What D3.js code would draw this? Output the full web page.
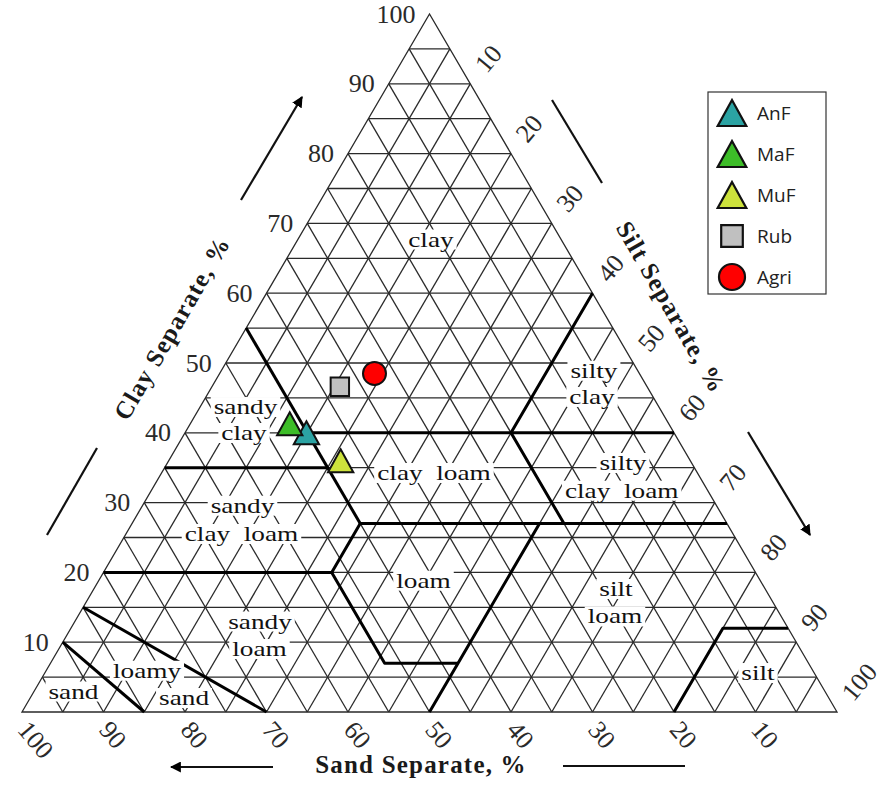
<!DOCTYPE html>
<html>
<head>
<meta charset="utf-8">
<script src="https://cdn.jsdelivr.net/npm/d3@7/dist/d3.min.js"></script>
<style>
  body { margin: 0; background: #fff; }
  svg { display: block; }
</style>
</head>
<body>
<div id="chart"></div>
<script>
// soil samples, % of each separate
var sites = ["AnF", "MaF", "MuF", "Rub", "Agri"];
var siteSand = [45.1, 46.5, 42.9, 37.7, 32.5];
var siteSilt = [14.9, 12.2, 21.1, 15.7, 19.0];
var siteClay = [40.0, 41.3, 36.0, 46.6, 48.5];
var siteShape = ["triangle", "triangle", "triangle", "square", "circle"];
var siteColor = ["#2ba3a3", "#3dbd28", "#cde23c", "#c0c0c0", "#ff0000"];

var ticks = [10, 20, 30, 40, 50, 60, 70, 80, 90, 100];
var gridSteps = d3.range(5, 100, 5);

// texture class boundaries as [sand, silt, clay]
var boundaries = [
    [[90, 0, 10], [85, 15, 0]],
    [[85, 0, 15], [70, 30, 0]],
    [[80, 0, 20], [52, 28, 20], [52, 41, 7], [43, 50, 7]],
    [[65, 0, 35], [45, 20, 35]],
    [[45, 0, 55], [45, 28, 27]],
    [[52, 28, 20], [45, 28, 27], [0, 73, 27]],
    [[45, 15, 40], [0, 60, 40]],
    [[0, 40, 60], [20, 40, 40], [20, 53, 27]],
    [[23, 50, 27], [43, 50, 7], [50, 50, 0]],
    [[20, 80, 0], [8, 80, 12], [0, 88, 12]]
];

// class name lines, centred at [clay, silt]
var labelText = ["clay", "silty", "clay", "sandy", "clay", "clay  loam", "silty", "clay  loam",
    "sandy", "clay  loam", "loam", "silt", "loam", "sandy", "loam", "loamy", "sand", "sand", "silt"];
var labelClay = [67.55, 48.75, 44.99, 43.55, 39.83, 34.1, 35.53, 31.56,
    29.41, 25.36, 18.67, 17.48, 13.54, 12.82, 8.88, 5.77, 1.86, 2.79, 5.44];
var labelSilt = [16.4, 45.8, 47.45, 5.65, 7.33, 33.5, 55.97, 57.8,
    12.35, 14.25, 39.93, 64.14, 65.99, 22.79, 24.7, 12.45, 18.95, 4.92, 87.59];

var width = 883, height = 792;

var svg = d3.select("#chart").append("svg")
    .attr("width", width)
    .attr("height", height);

var xScale = d3.scaleLinear().domain([0, 100]).range([22, 837]);
var yScale = d3.scaleLinear().domain([0, 100]).range([712, 14]);

function project(sand, silt, clay) {
    return [xScale(silt + clay / 2), yScale(clay)];
}
var line = d3.line();

// grid every 5%
var grid = svg.append("g")
    .attr("stroke", "#2a2a2a")
    .attr("stroke-width", 1.3)
    .attr("fill", "none");
gridSteps.forEach(function (k) {
    grid.append("path").attr("d", line([project(100 - k, 0, k), project(0, 100 - k, k)]));
    grid.append("path").attr("d", line([project(k, 100 - k, 0), project(k, 0, 100 - k)]));
    grid.append("path").attr("d", line([project(100 - k, k, 0), project(0, k, 100 - k)]));
});
grid.append("path")
    .attr("d", line([project(100, 0, 0), project(0, 100, 0), project(0, 0, 100)]) + "Z");

// white patches under the class names
var labelScale = 1.33;
var labels = svg.append("g");
var labelG = labels.selectAll("g")
    .data(labelText)
    .enter().append("g")
    .attr("transform", function (d, i) {
        var p = project(100 - labelSilt[i] - labelClay[i], labelSilt[i], labelClay[i]);
        return "translate(" + p[0] + "," + p[1] + ")";
    });
labelG.append("rect").attr("fill", "#fff");
labelG.append("text")
    .attr("transform", "scale(" + labelScale + ",1)")
    .attr("text-anchor", "middle")
    .attr("y", 6)
    .attr("font-family", "'Liberation Serif', 'Times New Roman', serif")
    .attr("font-size", 20.5)
    .attr("fill", "#111")
    .style("white-space", "pre")
    .text(function (d) { return d; });
labelG.each(function () {
    var t = d3.select(this).select("text").node();
    var w = t.getComputedTextLength() * labelScale + 6;
    d3.select(this).select("rect")
        .attr("x", -w / 2).attr("y", -11)
        .attr("width", w).attr("height", 20);
});

// class boundaries
svg.append("g")
    .selectAll("path")
    .data(boundaries)
    .enter().append("path")
    .attr("d", function (d) { return line(d.map(function (p) { return project(p[0], p[1], p[2]); })); })
    .attr("fill", "none")
    .attr("stroke", "#000")
    .attr("stroke-width", 3)
    .attr("stroke-linejoin", "round");

svg.node().appendChild(labels.node());

// tick labels
var tickFont = "'Liberation Serif', 'Times New Roman', serif";
svg.append("g").selectAll("text")
    .data(ticks).enter().append("text")
    .attr("x", function (d) { return project(100 - d, 0, d)[0] - 14; })
    .attr("y", function (d) { return project(100 - d, 0, d)[1]; })
    .attr("dominant-baseline", "central")
    .attr("text-anchor", "end")
    .attr("font-family", tickFont).attr("font-size", 26).attr("fill", "#2a2a2a")
    .text(function (d) { return d; });

svg.append("g").selectAll("text")
    .data(ticks).enter().append("text")
    .attr("transform", function (d) {
        var p = project(0, d, 100 - d);
        return "translate(" + (p[0] + 10) + "," + (p[1] - 15) + ") rotate(-50)";
    })
    .attr("dominant-baseline", "central")
    .attr("font-family", tickFont).attr("font-size", 26).attr("fill", "#2a2a2a")
    .text(function (d) { return d; });

svg.append("g").selectAll("text")
    .data(ticks).enter().append("text")
    .attr("transform", function (d) {
        var p = project(d, 100 - d, 0);
        return "translate(" + (p[0] + 1) + "," + (p[1] + 13) + ") rotate(50)";
    })
    .attr("dominant-baseline", "central")
    .attr("font-family", tickFont).attr("font-size", 26).attr("fill", "#2a2a2a")
    .text(function (d) { return d; });

// axis titles
function title(txt, x, y, rot) {
    svg.append("text")
        .attr("transform", "translate(" + x + "," + y + ") rotate(" + rot + ")")
        .attr("text-anchor", "middle")
        .attr("dominant-baseline", "central")
        .attr("font-family", tickFont)
        .attr("font-weight", "bold")
        .attr("font-size", 25)
        .attr("letter-spacing", 1.2)
        .attr("fill", "#1a1a1a")
        .text(txt);
}
title("Clay Separate, %", 172, 328, -60);
title("Silt Separate, %", 671, 307, 60);
title("Sand Separate, %", 421, 764, 0);

// direction arrows
svg.append("defs").append("marker")
    .attr("id", "head")
    .attr("viewBox", "0 0 10 10")
    .attr("refX", 9).attr("refY", 5)
    .attr("markerWidth", 5).attr("markerHeight", 5)
    .attr("markerUnits", "strokeWidth")
    .attr("orient", "auto")
    .append("path").attr("d", "M0,0L10,5L0,10Z").attr("fill", "#000");

var arrows = [
    [[241, 200], [302, 97], true],
    [[97, 448], [47, 535], false],
    [[552, 100], [602, 183], false],
    [[748, 432], [810, 535], true],
    [[273, 767], [171, 767], true],
    [[563, 766], [685, 766], false]
];
svg.append("g").selectAll("path")
    .data(arrows).enter().append("path")
    .attr("d", function (d) { return line([d[0], d[1]]); })
    .attr("stroke", "#111")
    .attr("stroke-width", 2.2)
    .attr("marker-end", function (d) { return d[2] ? "url(#head)" : null; });

// sample markers
function shapePath(shape, s) {
    if (shape === "triangle") return "M0," + (-s) + "L" + (s * 1.1) + "," + s + "L" + (-s * 1.1) + "," + s + "Z";
    if (shape === "square") return "M" + (-s * 0.8) + "," + (-s * 0.8) + "H" + (s * 0.8) + "V" + (s * 0.8) + "H" + (-s * 0.8) + "Z";
    return d3.symbol(d3.symbolCircle, Math.PI * s * s)();
}
svg.append("g").selectAll("path")
    .data(sites).enter().append("path")
    .attr("transform", function (d, i) {
        var p = project(siteSand[i], siteSilt[i], siteClay[i]);
        return "translate(" + p[0] + "," + p[1] + ")";
    })
    .attr("d", function (d, i) { return shapePath(siteShape[i], 11.5); })
    .attr("fill", function (d, i) { return siteColor[i]; })
    .attr("stroke", "#111")
    .attr("stroke-width", 2);

// legend
var legend = svg.append("g").attr("transform", "translate(708,92)");
legend.append("rect")
    .attr("width", 118).attr("height", 202)
    .attr("fill", "#fff").attr("stroke", "#333").attr("stroke-width", 1.2);
var item = legend.selectAll(".item")
    .data(sites).enter().append("g")
    .attr("class", "item")
    .attr("transform", function (d, i) { return "translate(24," + (21 + i * 41) + ")"; });
item.append("path")
    .attr("d", function (d, i) { return shapePath(siteShape[i], siteShape[i] === "square" ? 13.5 : 13); })
    .attr("fill", function (d, i) { return siteColor[i]; })
    .attr("stroke", "#111")
    .attr("stroke-width", 2.2);
item.append("text")
    .attr("x", 25)
    .attr("dominant-baseline", "central")
    .attr("font-family", "'Open Sans', sans-serif")
    .attr("font-size", 19)
    .attr("fill", "#222")
    .text(function (d) { return d; });
</script>
</body>
</html>
